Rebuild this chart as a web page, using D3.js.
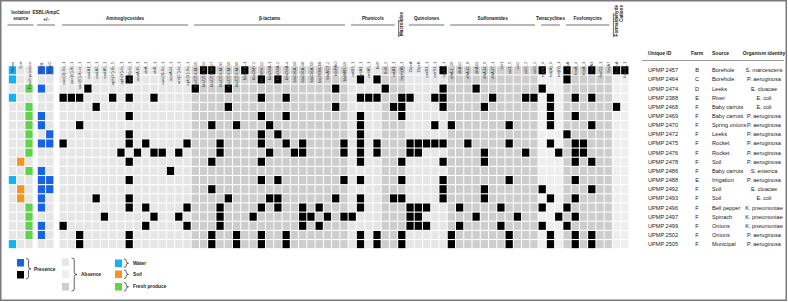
<!DOCTYPE html>
<html>
<head>
<meta charset="utf-8">
<script src="https://cdn.jsdelivr.net/npm/d3@7"></script>
<style>
  body { margin: 0; background: #fff; }
  svg { font-family: "Liberation Sans", Arial, sans-serif; }
  .tbl { font-family: "Liberation Sans Narrow", "Liberation Sans", Arial, sans-serif; }
</style>
</head>
<body>
<svg id="chart" width="788" height="302"></svg>
<script>
// ---- data ----
const isolates = ['UPMP 2457', 'UPMP 2464', 'UPMP 2474', 'UPMP 2388', 'UPMP 2468', 'UPMP 2469', 'UPMP 2470',
  'UPMP 2472', 'UPMP 2475', 'UPMP 2476', 'UPMP 2478', 'UPMP 2486', 'UPMP 2488', 'UPMP 2492', 'UPMP 2493',
  'UPMP 2496', 'UPMP 2497', 'UPMP 2499', 'UPMP 2502', 'UPMP 2505'];
const farms = ['B', 'C', 'D', 'E', 'F', 'F', 'F', 'F', 'F', 'F', 'F', 'F', 'E', 'F', 'F', 'F', 'F', 'F', 'F', 'F'];
const sources = ['Borehole', 'Borehole', 'Leeks', 'River', 'Baby carrots', 'Baby carrots', 'Spring onions', 'Leeks',
  'Rocket', 'Rocket', 'Soil', 'Baby carrots', 'Irrigation', 'Soil', 'Soil', 'Bell pepper', 'Spinach', 'Onions',
  'Onions', 'Municipal'];
const organisms = ['S. marcescens', 'P. aeruginosa', 'E. cloacae', 'E. coli', 'E. coli', 'P. aeruginosa',
  'P. aeruginosa', 'P. aeruginosa', 'P. aeruginosa', 'P. aeruginosa', 'P. aeruginosa', 'S. enterica',
  'P. aeruginosa', 'E. cloacae', 'E. coli', 'K. pneumoniae', 'K. pneumoniae', 'K. pneumoniae', 'P. aeruginosa',
  'P. aeruginosa'];

const sourceTypes = ['Water', 'Soil', 'Fresh produce'];
const isolationSource = ['Water', 'Water', 'Fresh produce', 'Water', 'Fresh produce', 'Fresh produce',
  'Fresh produce', 'Fresh produce', 'Fresh produce', 'Fresh produce', 'Soil', 'Fresh produce', 'Water', 'Soil',
  'Soil', 'Fresh produce', 'Fresh produce', 'Fresh produce', 'Fresh produce', 'Water'];

const esblTypes = ['ESBL', 'AmpC'];
const esbl = [1, 0, 1, 0, 0, 1, 1, 0, 1, 0, 0, 1, 1, 1, 1, 1, 0, 1, 1, 0];
const ampc = [1, 0, 0, 0, 0, 0, 0, 1, 1, 0, 0, 0, 1, 1, 0, 0, 0, 0, 0, 0];

const aminoglycosideGenes = ['aac(3)-IIa_1', 'aac(6\')-Ib_1', 'aac(6\')-Ib-cr_1', 'aadA1_1', 'aadA2_1', 'aadA5_1',
  'aph(3\'\')-Ib_5', 'aph(3\')-Ia_1', 'aph(6)-Id_1', 'aadA16_1', 'strA_1', 'strB_1', 'aac(3)-IId_1', 'aadA24_1',
  'ant(2\'\')-Ia_1', 'aph(3\')-IIa_1'];
const betaLactamGenes = ['blaCTX-M-15', 'blaCTX-M-14', 'blaCTX-M-27', 'blaCTX-M-32', 'blaCTX-M-55', 'blaCTX-M-65',
  'blaDHA-1', 'blaCMY-2', 'blaSHV-12', 'blaOXA-1', 'blaOXA-2', 'blaOXA-4', 'blaOXA-10', 'blaOXA-48', 'blaOXA-50',
  'blaTEM-1B', 'blaACT-2', 'blaPAO', 'blaMIR-16'];
const phenicolGenes = ['catB3_1', 'cmlA1_1', 'cmlA5_1', 'floR', 'floR_2', 'catA1_1'];
const macrolideGenes = ['mph(A)_1'];
const quinoloneGenes = ['OqxA', 'OqxB', 'qnrB1_1', 'qnrS1_1', 'qnrS2_1'];
const sulfonamideGenes = ['dfrA1_10', 'dfrA12', 'dfrA12_8', 'dfrA14', 'dfrA14_5', 'dfrA17_1', 'sul1', 'sul1_5',
  'sul2', 'sul2_2', 'sul3_2'];
const tetracyclineGenes = ['tet(A)_4', 'tet(A)_6', 'tet(D)_1'];
const fosfomycinGenes = ['fosA', 'fosA_4', 'fosA_3', 'fosA3', 'fosC2_1', 'fosA7'];
const formaldehydeGenes = ['formA', 'formB_1'];

const classNames = ['Aminoglycosides', 'β-lactams', 'Phenicols', 'Macrolides', 'Quinolones', 'Sulfonamides',
  'Tetracyclines', 'Fosfomycins', 'Formaldehyde Cations'];
const classGenes = [aminoglycosideGenes, betaLactamGenes, phenicolGenes, macrolideGenes, quinoloneGenes,
  sulfonamideGenes, tetracyclineGenes, fosfomycinGenes, formaldehydeGenes];

// gene hits per isolate (index into the gene columns, left to right)
const hits = [
  [17, 18, 22, 46, 58, 61, 64, 67, 68],
  [8, 24, 26, 36, 38, 61],
  [3, 16, 20, 33, 39, 46, 50, 58],
  [0, 1, 2, 6, 8, 11, 24, 27, 36, 37, 38, 41, 42, 45, 46, 52, 56, 57, 59, 62, 64],
  [4, 20, 33, 40, 41, 46, 51, 59, 67],
  [8, 24, 27, 36, 41, 59, 62],
  [2, 18, 21, 25, 36, 45, 47, 54, 59, 64],
  [8, 24, 26, 36, 61],
  [0, 8, 10, 15, 19, 24, 27, 29, 34, 36, 38, 42, 43, 44, 45, 46, 49, 54, 59, 62, 63],
  [7, 9, 11, 12, 14, 19, 25, 28, 29, 34, 36, 38, 42, 43, 51, 56, 60, 62, 63],
  [8, 18, 24, 36, 41, 46, 51, 62, 64],
  [13],
  [8, 24, 26, 34, 36, 41, 46, 54, 62],
  [18, 46, 51, 58, 64],
  [4, 8, 20, 25, 26, 33, 36, 40, 41, 46, 51, 59, 62],
  [8, 10, 15, 19, 24, 26, 29, 31, 36, 42, 43, 44, 48, 53, 58, 61],
  [5, 11, 14, 19, 23, 29, 30, 32, 34, 35, 42, 43, 50, 55, 60, 62],
  [0, 10, 15, 19, 29, 31, 42, 43, 44, 48, 53, 58, 61],
  [2, 8, 18, 21, 24, 27, 36, 38, 41, 47, 54, 59, 62, 64],
  [2, 8, 18, 21, 24, 27, 36, 38, 41, 47, 54, 59, 62, 64]
];

// ---- style ----
const colors = {
  'Water': '#18b1ef', 'Soil': '#f7931e', 'Fresh produce': '#5fd34b',
  blue: '#1a62e4', black: '#000', light: '#e6e6e6', pale: '#efefef', dark: '#cdcdcd'
};
const classShade = ['light', 'dark', 'light', 'dark', 'light', 'dark', 'pale', 'dark', 'pale'];
const darkPhenicols = ['floR_2', 'catA1_1'];

const allGenes = classGenes.flat();
const geneShade = {};
classGenes.forEach((g, i) => g.forEach(n => {
  geneShade[n] = darkPhenicols.includes(n) ? 'dark' : classShade[i];
}));

const svg = d3.select('#chart');

svg.append('rect')
  .attr('x', 0.75).attr('y', 0.75)
  .attr('width', 785.5).attr('height', 299.5)
  .attr('fill', 'none').attr('stroke', '#7a7a7a').attr('stroke-width', 1.5);

// ---- scales ----
const yScale = d3.scaleBand().domain(isolates).range([65.7, 248.7]).paddingInner(0.12).paddingOuter(0.06);
const xSource = d3.scaleBand().domain(sourceTypes).range([8.3, 33.1]).paddingInner(0.12).paddingOuter(0.06);
const xEsbl = d3.scaleBand().domain(esblTypes).range([37.3, 53.9]).paddingInner(0.12).paddingOuter(0.06);
const xGene = d3.scaleBand().domain(allGenes).range([59, 59 + allGenes.length * 8.26])
  .paddingInner(0.12).paddingOuter(0.06);

// ---- cells ----
const grid = svg.append('g');

isolates.forEach((id, r) => {
  const row = grid.append('g');
  row.selectAll('rect.src')
    .data(sourceTypes)
    .join('rect')
    .attr('x', d => xSource(d))
    .attr('y', yScale(id))
    .attr('width', xSource.bandwidth())
    .attr('height', yScale.bandwidth())
    .attr('fill', d => d === isolationSource[r] ? colors[d] : colors.light);

  row.selectAll('rect.esbl')
    .data(esblTypes)
    .join('rect')
    .attr('x', d => xEsbl(d))
    .attr('y', yScale(id))
    .attr('width', xEsbl.bandwidth())
    .attr('height', yScale.bandwidth())
    .attr('fill', d => (d === 'ESBL' ? esbl[r] : ampc[r]) ? colors.blue : colors.light);

  const present = new Set(hits[r].map(i => allGenes[i]));
  row.selectAll('rect.gene')
    .data(allGenes)
    .join('rect')
    .attr('x', d => xGene(d))
    .attr('y', yScale(id))
    .attr('width', xGene.bandwidth())
    .attr('height', yScale.bandwidth())
    .attr('fill', d => present.has(d) ? colors.black : colors[geneShade[d]]);
});

// ---- column labels ----
const colLabel = (sel, scale, names) => {
  sel.selectAll(null)
    .data(names)
    .join('text')
    .attr('transform', d => `translate(${scale(d) + scale.bandwidth() / 2 + 1.6}, 61.5) rotate(-90)`)
    .attr('text-anchor', 'end')
    .style('font-size', '4.3px')
    .style('fill', '#444')
    .text(d => d);
};
colLabel(svg.append('g'), xSource, sourceTypes);
colLabel(svg.append('g'), xEsbl, esblTypes);
colLabel(svg.append('g'), xGene, allGenes);

// ---- group headers ----
const head = svg.append('g').style('font-size', '4.6px').style('font-weight', 'bold').style('fill', '#222');
const hLine = (x0, x1, y) => head.append('line')
  .attr('x1', x0).attr('x2', x1).attr('y1', y).attr('y2', y)
  .attr('stroke', '#333').attr('stroke-width', 0.7);

head.append('text').attr('x', 20.7).attr('y', 14).attr('text-anchor', 'middle').text('Isolation');
head.append('text').attr('x', 20.7).attr('y', 20).attr('text-anchor', 'middle').text('source');
hLine(7.5, 33.5, 25);
head.append('text').attr('x', 46).attr('y', 14).attr('text-anchor', 'middle').text('ESBL/AmpC');
head.append('text').attr('x', 46).attr('y', 20.5).attr('text-anchor', 'middle').text('+/-');
hLine(37, 55, 25);

classNames.forEach((name, i) => {
  const genes = classGenes[i];
  const x0 = xGene(genes[0]);
  const x1 = xGene(genes[genes.length - 1]) + xGene.bandwidth();
  if (genes.length === 1 || name === 'Formaldehyde Cations') {
    const words = name.split(' ');
    const top = words.length > 1 ? 5 : 12;
    head.append('line')
      .attr('x1', x0 + 0.5).attr('x2', x0 + 0.5).attr('y1', top + 8).attr('y2', 37)
      .attr('stroke', '#333').attr('stroke-width', 0.7);
    words.forEach((w, j) => {
      head.append('text')
        .attr('transform', `translate(${x0 + 5 + j * 5.5}, ${top}) rotate(-90)`)
        .attr('text-anchor', 'end')
        .text(w);
    });
  } else {
    head.append('text').attr('x', (x0 + x1) / 2).attr('y', 19.5).attr('text-anchor', 'middle').text(name);
    hLine(x0 + 2.5, x1 - 2.5, 25);
  }
});

// ---- table ----
const table = svg.append('g').attr('class', 'tbl').style('fill', '#222');
const tCols = [
  {x: 648, anchor: 'start', title: 'Unique ID', values: isolates},
  {x: 697, anchor: 'middle', title: 'Farm', values: farms},
  {x: 712, anchor: 'start', title: 'Source', values: sources},
  {x: 764, anchor: 'middle', title: 'Organism identity', values: organisms}
];
tCols.forEach(c => {
  table.append('text')
    .attr('x', c.x).attr('y', 55)
    .attr('text-anchor', c.anchor)
    .style('font-size', '5px').style('font-weight', 'bold')
    .text(c.title);
  table.selectAll(null)
    .data(c.values)
    .join('text')
    .attr('x', c.x)
    .attr('y', (d, i) => yScale(isolates[i]) + yScale.bandwidth() / 2 + 2)
    .attr('text-anchor', c.anchor)
    .style('font-size', '5.6px')
    .text(d => d);
});
table.append('line')
  .attr('x1', 642).attr('x2', 784).attr('y1', 60.5).attr('y2', 60.5)
  .attr('stroke', '#555').attr('stroke-width', 0.6);

// ---- legend ----
const legend = svg.append('g').style('font-size', '4.8px').style('font-weight', 'bold').style('fill', '#222');
const brace = (x, y0, y1, w) => {
  const ym = (y0 + y1) / 2;
  const r = Math.min(2, (y1 - y0) / 4);
  const xm = x + w / 2;
  return `M${x},${y0} Q${xm},${y0} ${xm},${y0 + r} L${xm},${ym - r} Q${xm},${ym} ${x + w},${ym}` +
    ` Q${xm},${ym} ${xm},${ym + r} L${xm},${y1 - r} Q${xm},${y1} ${x},${y1}`;
};
const legendBox = (x, y, fill) => legend.append('rect')
  .attr('x', x).attr('y', y).attr('width', 7).attr('height', 7.5).attr('fill', fill);
const legendBrace = (x, y0, y1, w) => legend.append('path')
  .attr('d', brace(x, y0, y1, w)).attr('fill', 'none').attr('stroke', '#222').attr('stroke-width', 0.7);

legendBox(17, 259, colors.blue);
legendBox(17, 271, colors.black);
legendBrace(26, 258.5, 279, 5);
legend.append('text').attr('x', 34).attr('y', 270.5).text('Presence');

legendBox(62, 258.5, colors.light);
legendBox(62, 270.5, colors.pale);
legendBox(62, 283, colors.dark);
legendBrace(71.5, 258, 291, 5.5);
legend.append('text').attr('x', 81).attr('y', 276).text('Absence');

sourceTypes.forEach((s, i) => {
  const y = [259.5, 270.5, 283][i];
  legendBox(115, y, colors[s]);
  legendBrace(124, y - 0.5, y + 8, 4.5);
  legend.append('text').attr('x', 133).attr('y', y + 5).text(s);
});
</script>
</body>
</html>
